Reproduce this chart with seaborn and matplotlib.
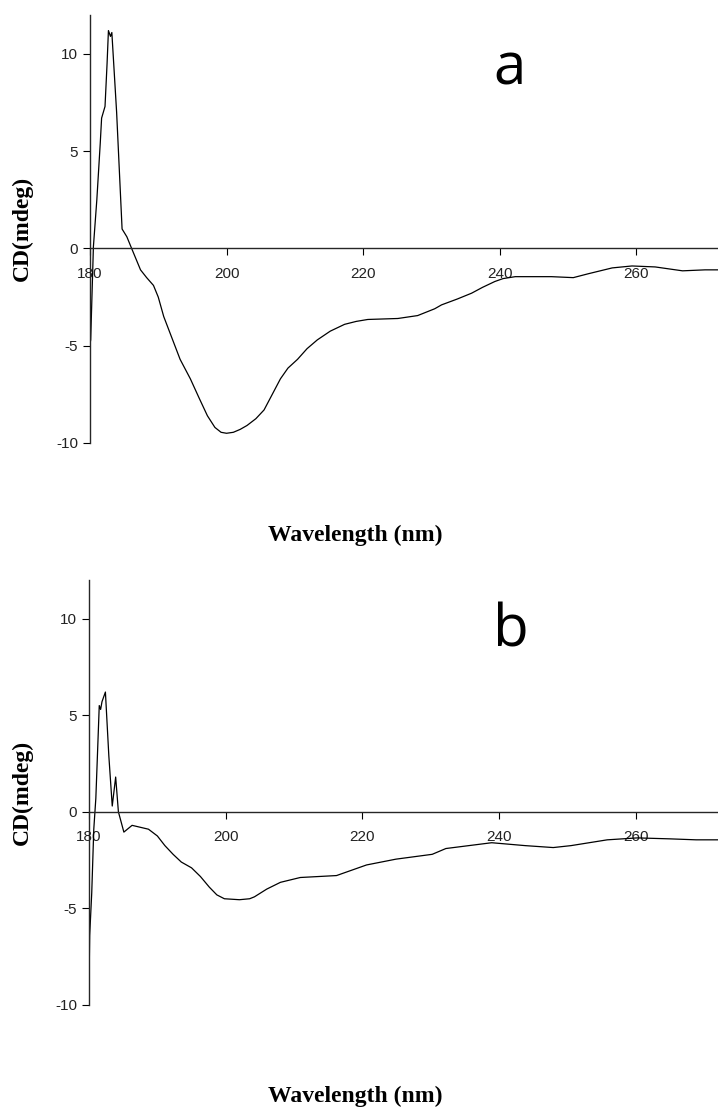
import numpy as np
import pandas as pd
import matplotlib
matplotlib.use("Agg")
import matplotlib.pyplot as plt
import seaborn as sns

# Panel a: CD spectrum (wavelength nm, CD mdeg)
wl_a = [180.0, 180.1, 180.5, 181.0, 181.5, 181.7, 182.2, 182.5, 182.7, 183.0, 183.2,
        183.9, 184.7, 185.4, 186.1, 187.4, 188.3, 189.3, 190.0, 190.8, 192.0,
        193.2, 194.7, 196.0, 197.2, 198.3, 199.2, 200.0, 201.0, 202.0, 203.0,
        204.3, 205.5, 206.7, 207.9, 209.0, 210.4, 211.8, 213.3, 215.2, 217.3,
        219.0, 220.7, 225.1, 228.0, 230.5, 231.5, 233.8, 235.9, 237.5, 239.3,
        240.5, 242.3, 247.6, 250.8, 253.0, 256.5, 259.4, 262.8, 266.8, 270.1,
        272.0]
cd_a = [-4.9, -4.7, 0.1, 2.5, 5.4, 6.7, 7.3, 9.5, 11.2, 10.9, 11.1,
        7.0, 1.0, 0.6, 0.0, -1.1, -1.5, -1.9, -2.5, -3.5, -4.6,
        -5.7, -6.7, -7.7, -8.6, -9.2, -9.45, -9.5, -9.45, -9.3, -9.1,
        -8.75, -8.3, -7.5, -6.7, -6.15, -5.7, -5.15, -4.7, -4.25, -3.9,
        -3.75, -3.65, -3.6, -3.45, -3.1, -2.9, -2.6, -2.3, -2.0, -1.7,
        -1.55, -1.45, -1.45, -1.5, -1.3, -1.0, -0.9, -0.95, -1.15, -1.1,
        -1.1]

# Panel b
wl_b = [180.0, 180.1, 180.4, 180.7, 181.0, 181.2, 181.5, 181.7, 181.9, 182.4,
        182.9, 183.4, 183.9, 184.3, 185.1, 186.3, 188.7, 190.0, 191.1, 192.3,
        193.5, 195.0, 196.3, 197.6, 198.7, 199.8, 202.0, 203.5, 204.2, 206.0,
        208.0, 210.9, 216.2, 220.6, 224.9, 230.2, 232.2, 238.9, 243.8, 247.9,
        250.5, 255.8, 260.2, 265.0, 268.8, 272.0]
cd_b = [-8.9, -6.4, -4.2, -0.9, 0.7, 2.6, 5.5, 5.3, 5.7, 6.2,
        2.9, 0.3, 1.8, 0.0, -1.05, -0.7, -0.9, -1.25, -1.75, -2.2,
        -2.6, -2.9, -3.35, -3.9, -4.3, -4.5, -4.55, -4.5, -4.4, -4.0,
        -3.65, -3.4, -3.3, -2.75, -2.45, -2.2, -1.9, -1.6, -1.75, -1.85,
        -1.75, -1.45, -1.35, -1.4, -1.45, -1.45]

panels = [("a", wl_a, cd_a), ("b", wl_b, cd_b)]
x_ticks = [180, 200, 220, 240, 260]
y_ticks = [-10, -5, 0, 5, 10]

sns.set_style("ticks")
plt.rcParams["font.family"] = ["Liberation Sans", "DejaVu Sans"]
plt.rcParams["axes.unicode_minus"] = False

W, H = 718, 1108
fig = plt.figure(figsize=(W / 100, H / 100), dpi=100)

# pixel boxes (left, top, right, bottom)
boxes = [(90, 15, 718, 443), (89, 580, 718, 1005)]
xlabel_y = [535, 1096]
ylabel_y = [228, 792]
letter_pos = [(510, 69), (511, 631)]

for (name, wl, cd), (l, t, r, b), xly, yly, (lx, ly) in zip(panels, boxes, xlabel_y, ylabel_y, letter_pos):
    ax = fig.add_axes([l / W, 1 - b / H, (r - l) / W, (b - t) / H])
    df = pd.DataFrame({"wavelength": wl, "cd": cd})
    sns.lineplot(data=df, x="wavelength", y="cd", ax=ax, color="black",
                 linewidth=0.9, sort=False, estimator=None)
    ax.set_xlim(180, 272)
    ax.set_ylim(-10, 12)
    ax.spines["top"].set_visible(False)
    ax.spines["right"].set_visible(False)
    ax.spines["bottom"].set_position(("data", 0))
    ax.spines["left"].set_linewidth(1.0)
    ax.spines["bottom"].set_linewidth(1.0)
    ax.set_xticks(x_ticks)
    ax.set_yticks(y_ticks)
    ax.tick_params(axis="both", direction="out", length=5, width=0.8,
                   labelsize=11, colors="black", labelcolor="#222222")
    ax.tick_params(axis="x", pad=8)
    ax.set_xlabel("")
    ax.set_ylabel("")
    fig.text(355 / W, 1 - xly / H, "Wavelength (nm)", ha="center", va="center",
             fontsize=17, fontweight="bold", family="Liberation Serif", color="black")
    fig.text(22 / W, 1 - yly / H, "CD(mdeg)", ha="center", va="center", rotation=90,
             fontsize=17, fontweight="bold", family="Liberation Serif", color="black")
    fig.text(lx / W, 1 - ly / H, name, ha="center", va="center", fontsize=42,
             family="Open Sans", color="black")

fig.savefig("out.png", dpi=100)
